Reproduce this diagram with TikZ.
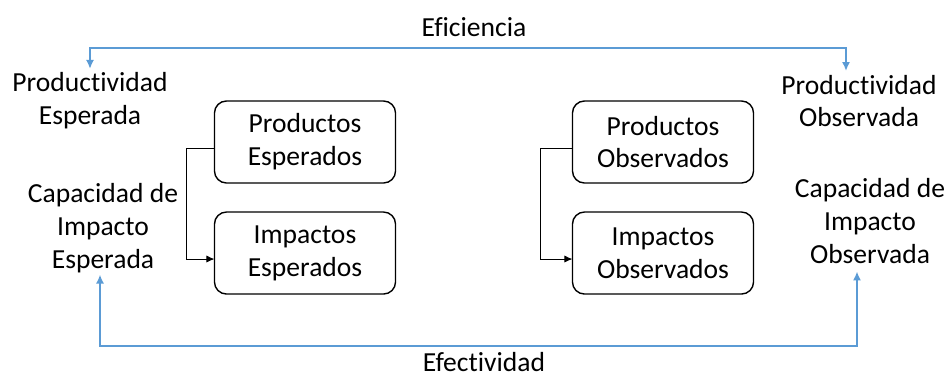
\documentclass[tikz,border=0pt]{standalone}
\usepackage{fontspec}
\setmainfont[Ligatures=NoCommon]{Carlito}
\usepackage{xcolor}
\definecolor{azul}{RGB}{91,155,213}
\usetikzlibrary{positioning}
\usetikzlibrary{arrows.meta}

\begin{document}
\begin{tikzpicture}[x=0.025cm,y=-0.025cm,align=center,node distance=0.725cm,
    every node/.style={inner sep=0,outer sep=0,font=\fontsize{19.6}{23.4}\selectfont},
    caja/.style={draw,line width=1pt,rounded corners=0.3cm,minimum width=4.525cm,minimum height=2.05cm},
    efe/.style={azul,line width=1.1pt,{Latex[length=0.22cm,width=0.2cm]}-{Latex[length=0.22cm,width=0.2cm]}},
    flecha/.style={black,line width=0.7pt,-{Latex[length=0.2cm,width=0.18cm]}}]
    \useasboundingbox (0,0) rectangle (948,376);
    % textos laterales
    \node (P1) at (90,101) {Productividad\\Esperada};
    \node (P2) at (859,101) {Productividad\\Observada};
    \node (C1) at (103,228) {Capacidad de\\Impacto\\Esperada};
    \node (C2) at (870,221) {Capacidad de\\Impacto\\Observada};
    % cajas
    \node[caja] (B1) at (305,142) {Productos\\Esperados};
    \node[caja] (B2) [below=of B1] {Impactos\\Esperados};
    \node[caja] (B3) at (663,142) {Productos\\Observados};
    \node[caja] (B4) [below=of B3] {Impactos\\Observados};
    % etiquetas
    \node (E1) at (474,27) {Eficiencia};
    \node (E2) at (484,362) {Efectividad};
    \coordinate (T1) at (474,48);
    \coordinate (T2) at (484,346);
    \draw[efe] ([yshift=0.1cm]P1.north) |- (T1) -| ([xshift=-0.325cm,yshift=0.1cm]P2.north);
    \draw[efe] ([xshift=-0.075cm,yshift=-0.05cm]C1.south) |- (T2) -| ([xshift=-0.325cm,yshift=-0.2cm]C2.south);
    \draw[flecha] ([yshift=-0.15cm]B1.west) -- ++(-0.7cm,0) |- ([yshift=-0.15cm]B2.west);
    \draw[flecha] ([yshift=-0.15cm]B3.west) -- ++(-0.8cm,0) |- ([yshift=-0.15cm]B4.west);
\end{tikzpicture}
\end{document}
